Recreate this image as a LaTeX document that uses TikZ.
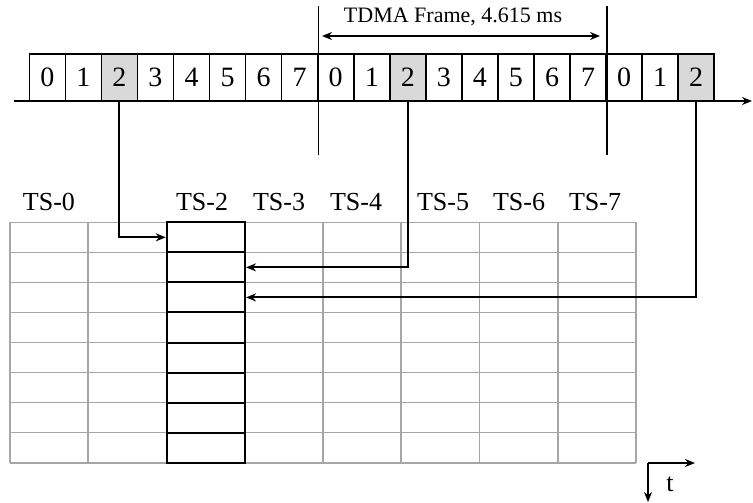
\documentclass[tikz,border=0pt]{standalone}
\usepackage{fontspec}
\setmainfont{Liberation Serif}
\usetikzlibrary{arrows.meta}

\tikzset{
  slotbox/.style={draw, line width=1.6pt, minimum width=36.05pt, minimum height=46.7pt, inner sep=0pt, font=\fontsize{28}{28}\selectfont},
  slotgray/.style={slotbox, fill=black!15},
  cellbox/.style={draw, line width=2pt, minimum width=78.25pt, minimum height=30.05pt, inner sep=0pt},
  tslabel/.style={font=\fontsize{26}{26}\selectfont},
  gridline/.style={line width=1.6pt, black!35},
  conn/.style={line width=2pt, -{Stealth[length=10pt,width=8pt]}}
}

\begin{document}
\begin{tikzpicture}[x=1pt,y=-1pt]
\useasboundingbox (0,0) rectangle (753,503);

% time slots on the carrier
\def\slotsAmount{18}
\foreach \i in {0,...,\slotsAmount}{
    \pgfmathtruncatemacro{\n}{mod(\i,8)}
    \ifnum\n=2
      \node[slotgray] (s\i) at ({29.3+36.05*(\i+0.5)},77.65) {\n};
    \else
      \node[slotbox] (s\i) at ({29.3+36.05*(\i+0.5)},77.65) {\n};
    \fi
}
\coordinate (axL) at (14,101);
\coordinate (axR) at (752,101);
\draw[conn] (axL) -- (axR);

% frame markers
\coordinate (fa1) at (s7.north east |- 0,6);
\coordinate (fb1) at (s7.north east |- 0,155);
\coordinate (fa2) at (s15.north east |- 0,6);
\coordinate (fb2) at (s15.north east |- 0,155);
\draw[line width=1.8pt] (fa1) -- (fb1);
\draw[line width=1.8pt] (fa2) -- (fb2);
\coordinate (fl) at (322,36);
\coordinate (fr) at (600,36);
\draw[line width=1.6pt, {Stealth[length=10pt,width=8pt]}-{Stealth[length=10pt,width=8pt]}] (fl) -- (fr);
\node[font=\fontsize{22}{22}\selectfont] (frame) at (453,17) {TDMA Frame, 4.615 ms};

% table of time slots
\foreach \c in {0,...,8}
    \draw[gridline] ({10+78.25*\c},222.3) -- ({10+78.25*\c},462.7);
\foreach \r in {0,...,8}
    \draw[gridline] (10,{222.3+30.05*\r}) -- (636,{222.3+30.05*\r});
\foreach \k in {1,...,8}{
    \node[cellbox] (c\k) at (205.9,{222.3+30.05*(\k-0.5)}) {};
}

\node[tslabel] (ts0) at (49,201.7) {TS-0};
\node[tslabel] (ts2) at (202,201.7) {TS-2};
\node[tslabel] (ts3) at (279,201.7) {TS-3};
\node[tslabel] (ts4) at (356,201.7) {TS-4};
\node[tslabel] (ts5) at (443,201.7) {TS-5};
\node[tslabel] (ts6) at (519,201.7) {TS-6};
\node[tslabel] (ts7) at (595,201.7) {TS-7};

% slot 2 of each frame into the TS-2 column
\draw[conn] (s2.south) |- (c1.west);
\draw[conn] (s10.south) |- (c2.east);
\draw[conn] (s18.south) |- (c3.east);

% time axis
\coordinate (tO) at (648,463);
\coordinate (tR) at (695,463);
\coordinate (tD) at (648,502);
\draw[conn] (tO) -- (tR);
\draw[conn] (tO) -- (tD);
\node[tslabel] (t) at (670,484) {t};

\end{tikzpicture}
\end{document}
